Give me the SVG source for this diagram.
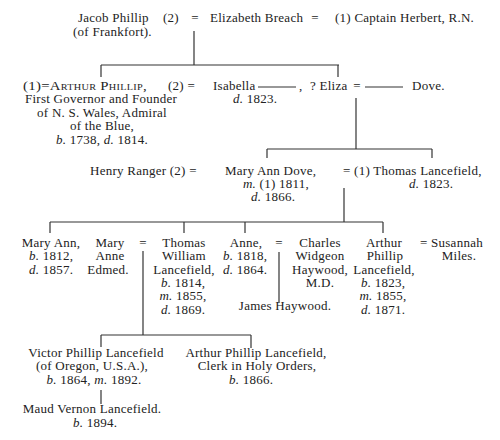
<svg xmlns="http://www.w3.org/2000/svg" width="500" height="440" viewBox="0 0 500 440">
<style>
text{font-family:"Liberation Serif","Times New Roman",serif;font-size:13px;letter-spacing:0.25px;fill:#222}
.m{text-anchor:middle}
.i{font-style:italic}
.sc{font-variant:small-caps}
.c line{stroke:#333;stroke-width:1.2}
</style>
<rect width="500" height="440" fill="#fff"/>
<g class="c" id="connectors">
<line x1="194" y1="31" x2="194" y2="65"/>
<line x1="101" y1="65" x2="339" y2="65"/>
<line x1="101" y1="65" x2="101" y2="77"/>
<line x1="338" y1="65" x2="338" y2="77"/>
<line x1="258" y1="87" x2="296" y2="87"/>
<line x1="365" y1="87" x2="403" y2="87"/>
<line x1="356" y1="98" x2="356" y2="149"/>
<line x1="267" y1="149" x2="432" y2="149"/>
<line x1="267" y1="149" x2="267" y2="158"/>
<line x1="432" y1="149" x2="432" y2="158"/>
<line x1="344" y1="188" x2="344" y2="222"/>
<line x1="50" y1="222" x2="383" y2="222"/>
<line x1="50" y1="222" x2="50" y2="233"/>
<line x1="184" y1="222" x2="184" y2="233"/>
<line x1="245" y1="222" x2="245" y2="233"/>
<line x1="383" y1="222" x2="383" y2="233"/>
<line x1="143" y1="251" x2="143" y2="335"/>
<line x1="101" y1="335" x2="251" y2="335"/>
<line x1="101" y1="335" x2="101" y2="347"/>
<line x1="251" y1="335" x2="251" y2="348"/>
<line x1="279" y1="252" x2="279" y2="303"/>
<line x1="101" y1="390" x2="101" y2="404"/>
</g>
<g id="jacob"><text x="78" y="22">Jacob Phillip</text><text x="73" y="36">(of Frankfort).</text></g>
<g id="jacob-marriage"><text x="163" y="22">(2)</text><text x="195" y="22" class="m">=</text></g>
<g id="elizabeth"><text x="210" y="22">Elizabeth Breach</text></g>
<g id="herbert"><text x="315" y="22" class="m">=</text><text x="335" y="22">(1) Captain Herbert, R.N.</text></g>
<g id="arthur">
<text x="23" y="90" textLength="124" lengthAdjust="spacingAndGlyphs">(1)=<tspan class="sc">Arthur Phillip</tspan>,</text>
<text x="101" y="103" class="m">First Governor and Founder</text>
<text x="102" y="117" class="m">of N. S. Wales, Admiral</text>
<text x="102" y="130" class="m">of the Blue,</text>
<text x="102" y="144" class="m"><tspan class="i">b.</tspan> 1738, <tspan class="i">d.</tspan> 1814.</text>
</g>
<g id="isabella"><text x="168" y="90">(2) =</text><text x="213" y="90">Isabella</text><text x="255" y="103" class="m"><tspan class="i">d.</tspan> 1823.</text></g>
<g id="eliza"><text x="299" y="90">,</text><text x="310" y="90">? Eliza</text><text x="357" y="90" class="m">=</text></g>
<g id="dove"><text x="412" y="90">Dove.</text></g>
<g id="ranger"><text x="90" y="175">Henry Ranger (2) =</text></g>
<g id="maryanndove"><text x="225" y="175">Mary Ann Dove,</text><text x="276" y="188" class="m"><tspan class="i">m.</tspan> (1) 1811,</text><text x="273" y="201" class="m"><tspan class="i">d.</tspan> 1866.</text></g>
<g id="thomas"><text x="343" y="175">= (1) Thomas Lancefield,</text><text x="431" y="188" class="m"><tspan class="i">d.</tspan> 1823.</text></g>
<g id="maryann"><text x="51" y="247" class="m">Mary Ann,</text><text x="51" y="260" class="m"><tspan class="i">b.</tspan> 1812,</text><text x="51" y="274" class="m"><tspan class="i">d.</tspan> 1857.</text></g>
<g id="edmed"><text x="110" y="247" class="m">Mary</text><text x="110" y="260" class="m">Anne</text><text x="108" y="274" class="m">Edmed.</text><text x="143" y="247" class="m">=</text></g>
<g id="thomaswilliam"><text x="184" y="247" class="m">Thomas</text><text x="184" y="260" class="m">William</text><text x="184" y="274" class="m">Lancefield,</text><text x="183" y="287" class="m"><tspan class="i">b.</tspan> 1814,</text><text x="183" y="300" class="m"><tspan class="i">m.</tspan> 1855,</text><text x="183" y="314" class="m"><tspan class="i">d.</tspan> 1869.</text></g>
<g id="anne"><text x="246" y="247" class="m">Anne,</text><text x="245" y="260" class="m"><tspan class="i">b.</tspan> 1818,</text><text x="245" y="274" class="m"><tspan class="i">d.</tspan> 1864.</text><text x="279" y="247" class="m">=</text></g>
<g id="charles"><text x="320" y="247" class="m">Charles</text><text x="320" y="260" class="m">Widgeon</text><text x="320" y="274" class="m">Haywood,</text><text x="320" y="287" class="m">M.D.</text></g>
<g id="arthurphillip"><text x="384" y="247" class="m">Arthur</text><text x="385" y="260" class="m">Phillip</text><text x="384" y="274" class="m">Lancefield,</text><text x="383" y="287" class="m"><tspan class="i">b.</tspan> 1823,</text><text x="383" y="300" class="m"><tspan class="i">m.</tspan> 1855,</text><text x="383" y="314" class="m"><tspan class="i">d.</tspan> 1871.</text></g>
<g id="susannah"><text x="420" y="247">= Susannah</text><text x="459" y="260" class="m">Miles.</text></g>
<g id="james"><text x="285" y="310" class="m">James Haywood.</text></g>
<g id="victor"><text x="96" y="357" class="m">Victor Phillip Lancefield</text><text x="92" y="370" class="m">(of Oregon, U.S.A.),</text><text x="94" y="384" class="m"><tspan class="i">b.</tspan> 1864, <tspan class="i">m.</tspan> 1892.</text></g>
<g id="arthurclerk"><text x="256" y="357" class="m">Arthur Phillip Lancefield,</text><text x="257" y="370" class="m">Clerk in Holy Orders,</text><text x="251" y="384" class="m"><tspan class="i">b.</tspan> 1866.</text></g>
<g id="maud"><text x="92" y="413" class="m">Maud Vernon Lancefield.</text><text x="95" y="427" class="m"><tspan class="i">b.</tspan> 1894.</text></g>
</svg>
